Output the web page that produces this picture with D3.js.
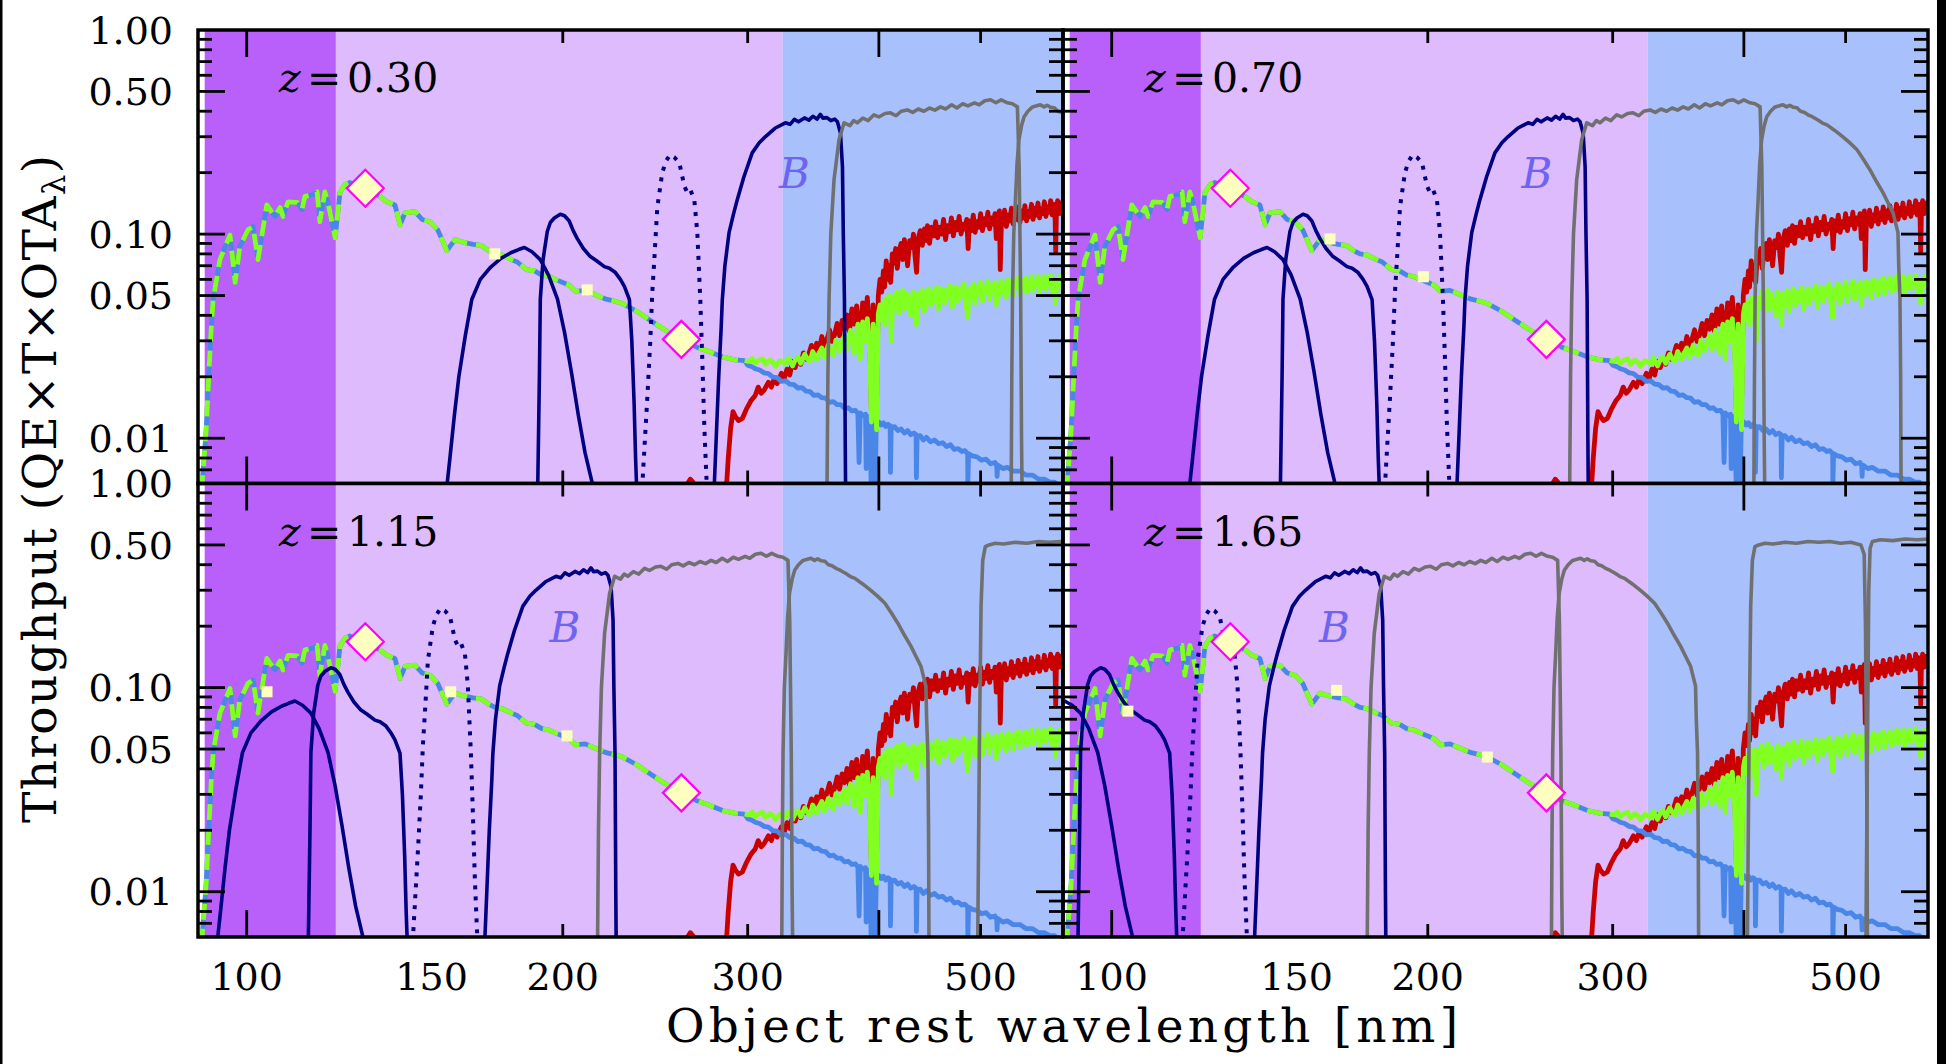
<!DOCTYPE html>
<html>
<head>
<meta charset="utf-8">
<script src="https://cdn.jsdelivr.net/npm/d3@7/dist/d3.min.js"></script>
<style>
html,body{margin:0;padding:0;background:#fff;}
svg{display:block;}
</style>
</head>
<body>
<svg id="chart" width="1946" height="1064"></svg>
<script>
// ================= DATA =================
const redshifts = [0.30, 0.70, 1.15, 1.65];
const redshiftLabels = ["0.30", "0.70", "1.15", "1.65"];
const xTickLabels = [100, 150, 200, 300, 500];
const xMajorTicks = [100, 400];
const xMinorTicks = [200, 300, 500];
const yTickValues = [1.0, 0.5, 0.1, 0.05, 0.01];
const yTickLabels = ["1.00", "0.50", "0.10", "0.05", "0.01"];
const yMinorTicks = [0.9,0.8,0.7,0.6,0.4,0.3,0.2,0.09,0.08,0.07,0.06,0.04,0.03,0.02,0.009,0.008,0.007];
const bandEdges = [91.2, 121.6, 324, 599];
const bandColors = ["#b95ffa", "#ddbbfc", "#a8c1fc"];

// rest-frame galaxy spectrum shared by blue and green templates (UV part)
const uvSpectrum = [[90.5,0.0055],[91.0,0.0075],[91.5,0.011],[92.0,0.02],[92.5,0.034],[92.9,0.048],[94.3,0.075],[96.4,0.099],[97.5,0.058],[98.5,0.087],[100.3,0.105],[101.4,0.109],[102.5,0.075],[104.5,0.139],[106.4,0.122],[107.6,0.135],[108.3,0.122],[109.5,0.144],[111.7,0.143],[112.9,0.132],[113.6,0.153],[115.6,0.156],[116.7,0.161],[117.4,0.115],[118.7,0.161],[119.5,0.143],[121.4,0.096],[122.7,0.160],[124.1,0.175],[125.4,0.179],[127.0,0.172],[129.9,0.165],[133.9,0.153],[136.0,0.144],[138.4,0.139],[140.0,0.111],[141.5,0.127],[144.6,0.129],[146.9,0.118],[149.5,0.115],[152.0,0.105],[155.1,0.083],[157.9,0.094],[161.0,0.091],[164.3,0.089],[167.3,0.088],[170.0,0.083],[172.4,0.080],[175.0,0.079],[178.7,0.075],[181.0,0.073],[184.7,0.067],[188.0,0.066],[191.0,0.063],[194.0,0.062],[196.7,0.060],[200.0,0.058],[203.0,0.056],[205.6,0.0524],[210.0,0.053],[214.8,0.0505],[220.0,0.048],[224.0,0.047],[228.0,0.0457],[235.0,0.042],[242.0,0.038],[250.0,0.034],[259.4,0.0305],[268.0,0.028],[276.0,0.0265],[284.0,0.025],[292.0,0.0242],[298.0,0.024]];
const blueTail = [[298,0.024],[300,0.0228],[303,0.0224],[305,0.0219],[308,0.0216],[311,0.0209],[314,0.0207],[317,0.0199],[320,0.0198],[323,0.019],[326,0.0191],[329,0.0184],[332,0.0183],[335,0.0176],[338,0.0177],[341,0.017],[344,0.0169],[347,0.0162],[350,0.0163],[353,0.0158],[356,0.0157],[359,0.015],[362,0.0151],[365,0.0146],[368,0.0146],[371,0.014],[374,0.0141],[377,0.0136],[380,0.0137],[382,0.0132],[383,0.0076],[384,0.0133],[386,0.0129],[388.5,0.0131],[389,0.0071],[390,0.0128],[392,0.0127],[393.3,0.006],[394.5,0.0124],[396,0.0125],[396.8,0.0059],[397.8,0.0121],[400,0.012],[402,0.0116],[404,0.0119],[406,0.0114],[408,0.0117],[410,0.0115],[410.3,0.0068],[411,0.0113],[414,0.0114],[417,0.0109],[420,0.0111],[423,0.0106],[426,0.0109],[429,0.0104],[432,0.0106],[434,0.0104],[434.3,0.0064],[435,0.0102],[438,0.0103],[441,0.0098],[444,0.0101],[448,0.0096],[452,0.0098],[456,0.0094],[460,0.0095],[464,0.0091],[468,0.0093],[472,0.0088],[476,0.0089],[480,0.0086],[483,0.0087],[486,0.0084],[486.2,0.0059],[487,0.0084],[491,0.0082],[496,0.0081],[501,0.0078],[506,0.0079],[511,0.0075],[516,0.0076],[518,0.0073],[518.4,0.0065],[519,0.0074],[525,0.0071],[530,0.0072],[537,0.0069],[545,0.0069],[552,0.0066],[560,0.0066],[568,0.0063],[575,0.0063],[582,0.0061],[588,0.0061],[589.2,0.0054],[590.2,0.006],[595,0.0059],[600,0.0058]];
const greenTail = [[298,0.024],[301,0.0238],[303,0.0246],[305,0.0233],[307,0.024],[310,0.0245],[312,0.023],[315,0.0242],[317,0.0236],[319,0.0225],[322,0.024],[324,0.0236],[326,0.0231],[328,0.0247],[331,0.0226],[333,0.0242],[335,0.025],[337,0.0233],[340,0.0258],[342,0.0244],[344,0.0238],[346,0.0266],[349,0.0243],[351,0.0261],[353,0.0277],[355,0.0248],[358,0.0286],[360,0.0262],[362,0.0255],[364,0.0302],[367,0.0268],[369,0.0296],[371,0.0318],[373,0.027],[376,0.0338],[378,0.0292],[379,0.0262],[382,0.0362],[384,0.0245],[386,0.0371],[388,0.0298],[390,0.0385],[392,0.0262],[393.5,0.012],[395,0.0362],[397,0.0222],[398,0.011],[399.5,0.0405],[401,0.045],[402.5,0.038],[404,0.047],[405.5,0.036],[407,0.049],[408.5,0.042],[410,0.05],[411,0.03],[412.5,0.049],[414,0.044],[416,0.052],[418,0.041],[420,0.049],[421.5,0.053],[423,0.043],[425,0.051],[427,0.046],[429,0.04],[431,0.052],[433,0.047],[434.3,0.036],[436,0.051],[438,0.045],[440,0.053],[442,0.042],[444,0.05],[446,0.054],[448,0.045],[450,0.052],[452,0.047],[454,0.055],[456,0.043],[458,0.051],[460,0.054],[462,0.046],[464,0.053],[466,0.049],[468,0.056],[470,0.044],[472,0.052],[474,0.055],[476,0.047],[478,0.054],[480,0.05],[482,0.057],[484,0.047],[486,0.039],[488,0.054],[490,0.049],[492,0.057],[494,0.046],[496,0.055],[498,0.051],[500,0.058],[502,0.047],[504,0.055],[506,0.052],[508,0.059],[510,0.048],[512,0.056],[514,0.053],[516,0.058],[517.5,0.045],[519,0.056],[521,0.05],[523,0.059],[525,0.052],[527,0.057],[529,0.049],[531,0.06],[533,0.054],[535,0.058],[537,0.05],[539,0.059],[541,0.055],[543,0.061],[545,0.051],[547,0.058],[549,0.055],[551,0.061],[553,0.052],[555,0.059],[557,0.054],[559,0.062],[561,0.053],[563,0.058],[565,0.056],[567,0.062],[569,0.052],[571,0.06],[573,0.055],[575,0.062],[577,0.054],[579,0.059],[581,0.057],[583,0.063],[585,0.053],[587,0.06],[589.3,0.046],[591,0.06],[593,0.056],[595,0.062],[597,0.055],[600,0.06]];
const redSpectrum = [[262,0.0052],[263,0.006],[264.5,0.0063],[266,0.0061],[267.5,0.0052],[286,0.0052],[287.5,0.008],[289,0.0112],[290.5,0.0135],[292,0.0128],[294,0.0122],[296.5,0.0125],[299,0.0138],[302,0.0152],[305,0.0162],[307,0.0178],[309,0.0166],[311,0.0172],[314,0.0188],[316,0.0178],[318,0.0196],[320,0.0185],[323,0.0208],[325,0.0196],[327,0.0218],[329,0.0204],[331,0.0238],[333,0.0222],[335,0.0248],[337,0.023],[339,0.0262],[341,0.0244],[343,0.0258],[345,0.0285],[347,0.0262],[349,0.0292],[351,0.0271],[353,0.0315],[355,0.0282],[357,0.0305],[359,0.034],[361,0.0298],[363,0.0322],[365,0.0365],[367,0.0318],[369,0.0378],[371,0.0342],[373,0.0402],[375,0.0335],[377,0.043],[379,0.0362],[381,0.0445],[383,0.0352],[384,0.029],[386,0.046],[388,0.0375],[390,0.049],[392,0.033],[393.5,0.0135],[395,0.045],[397,0.028],[398,0.015],[399.5,0.05],[401,0.06],[402.5,0.052],[404,0.066],[405,0.055],[406.5,0.074],[408,0.06],[409,0.07],[410.5,0.058],[412,0.08],[413,0.072],[415,0.085],[416.5,0.068],[418,0.082],[420,0.09],[421.5,0.075],[423,0.094],[425,0.08],[426,0.07],[428,0.093],[430,0.086],[431.5,0.1],[433,0.078],[434.5,0.065],[436,0.095],[438,0.104],[440,0.088],[442,0.106],[443.5,0.093],[445,0.11],[447,0.09],[449,0.108],[451,0.098],[453,0.115],[455,0.096],[457,0.108],[459,0.1],[461,0.118],[463,0.094],[465,0.11],[467,0.103],[469,0.12],[471,0.098],[473,0.114],[475,0.105],[477,0.122],[479,0.1],[481,0.112],[483,0.106],[485,0.118],[486.5,0.085],[488,0.116],[490,0.104],[492,0.124],[494,0.102],[496,0.115],[498,0.108],[500,0.126],[502,0.104],[504,0.119],[506,0.111],[508,0.128],[510,0.106],[512,0.12],[514,0.112],[516,0.126],[517.5,0.095],[519,0.122],[521,0.13],[522,0.067],[523.5,0.125],[525,0.112],[527,0.131],[529,0.109],[531,0.124],[533,0.116],[535,0.134],[537,0.112],[539,0.127],[541,0.118],[543,0.136],[545,0.114],[547,0.13],[549,0.12],[551,0.138],[553,0.116],[555,0.129],[557,0.122],[559,0.14],[561,0.118],[563,0.134],[565,0.124],[567,0.142],[569,0.12],[571,0.133],[573,0.126],[575,0.144],[577,0.122],[579,0.136],[581,0.128],[583,0.146],[585,0.124],[587,0.14],[588.5,0.13],[589.5,0.082],[590.5,0.135],[592,0.146],[594,0.126],[596,0.142],[598,0.13],[600,0.145]];

const diamondPoints = [[129.7, 0.1677], [259.4, 0.0305]];
// filter effective wavelengths (observed frame, nm) with flux level, per panel
const squaresObs = [
  [[224.0, 0.080], [274.3, 0.0533]],
  [[274.4, 0.0947], [336.7, 0.0618]],
  [[224.8, 0.0954], [336.3, 0.0954], [434.0, 0.058]],
  [[274.6, 0.0767], [434.0, 0.097], [604.0, 0.0457]]
];

// filter throughput curves, observed-frame wavelength (nm)
const filterF225W = [[201,0.005],[203,0.008],[205,0.013],[207,0.02],[210,0.032],[213,0.048],[217,0.06],[222,0.069],[227,0.076],[232,0.081],[236,0.084],[239,0.086],[243,0.082],[247.5,0.075],[252,0.063],[257,0.048],[261,0.033],[265,0.021],[269,0.013],[273,0.0085],[277,0.0062],[279,0.005]];
const filterF275W = [[246,0.005],[247,0.02],[247.5,0.048],[249,0.075],[251.3,0.103],[253,0.114],[255.2,0.12],[258.6,0.125],[261,0.123],[263.7,0.116],[266,0.104],[268.4,0.095],[272,0.085],[276.2,0.0776],[280,0.074],[284.8,0.0693],[288,0.068],[291.8,0.0648],[295,0.06],[297.6,0.0554],[300.9,0.0478],[302.5,0.03],[304,0.015],[305,0.008],[306,0.005]];
const filterF336W = [[309,0.005],[311,0.009],[313,0.016],[315,0.03],[316.4,0.052],[317.8,0.075],[319.9,0.136],[323.4,0.2],[326,0.228],[329.1,0.245],[332,0.238],[335.7,0.224],[338,0.19],[339.5,0.171],[341.7,0.16],[343.9,0.165],[346.9,0.1475],[349.2,0.102],[351.5,0.048],[353,0.025],[354.5,0.012],[356,0.007],[357,0.005]];
const filterF435W = [[362,0.005],[364,0.01],[366,0.02],[368,0.035],[368.9,0.0478],[371,0.07],[374.4,0.1017],[378,0.125],[381.2,0.1475],[386.8,0.191],[393.9,0.25],[400,0.28],[405.3,0.2997],[414,0.33],[423.6,0.351],[428,0.345],[432,0.365],[436,0.355],[441.7,0.371],[446,0.362],[450,0.378],[454,0.366],[457.4,0.386],[460,0.37],[464,0.372],[468,0.36],[472,0.366],[474.8,0.355],[478,0.313],[480.1,0.214],[481,0.1],[482.2,0.0478],[483,0.01],[483.5,0.005]];
const filterF606W = [[464,0.005],[465,0.02],[466.2,0.0478],[468,0.1],[471.3,0.1847],[476.5,0.29],[481.8,0.351],[488,0.34],[492,0.36],[495.9,0.351],[502,0.37],[508,0.36],[514.5,0.384],[520,0.375],[527,0.39],[533.3,0.393],[540,0.38],[546,0.4],[553.5,0.406],[560,0.395],[567,0.41],[574,0.4],[581,0.415],[588,0.405],[595.2,0.42],[602,0.41],[610,0.43],[617,0.415],[625,0.435],[632,0.425],[641.4,0.44],[648,0.43],[656,0.45],[664.3,0.455],[672,0.44],[680,0.455],[689.4,0.44],[697,0.435],[704.6,0.42],[707.3,0.214],[709.7,0.0478],[711,0.01],[712,0.005]];
const filterF814W = [[695,0.005],[696,0.02],[697,0.0478],[699,0.1],[701.6,0.1475],[704,0.22],[707,0.29],[711,0.34],[715,0.3754],[721,0.4],[728.3,0.42],[735,0.425],[741,0.43],[747,0.42],[752,0.428],[758,0.418],[764,0.416],[770,0.4],[776,0.395],[782.7,0.384],[790,0.376],[800,0.362],[808,0.35],[816,0.343],[830,0.322],[845,0.2997],[858,0.28],[871.5,0.259],[884,0.232],[896.5,0.2067],[910,0.18],[922.6,0.1596],[933,0.142],[943,0.1274],[953.4,0.1017],[955,0.07],[957.6,0.0478],[959,0.02],[960,0.005]];
const filterF125W = [[1068,0.005],[1072,0.05],[1076,0.25],[1080,0.42],[1086,0.49],[1095,0.5],[1110,0.51],[1130,0.505],[1160,0.515],[1190,0.51],[1220,0.52],[1250,0.515],[1280,0.52],[1310,0.51],[1340,0.515],[1370,0.5],[1380,0.45],[1384,0.2],[1388,0.03],[1390,0.005]];
const filterF160W = [[1385,0.005],[1390,0.05],[1394,0.3],[1398,0.48],[1405,0.52],[1430,0.53],[1470,0.525],[1510,0.535],[1550,0.53],[1590,0.535],[1630,0.53]];
const bLabelObs = 432;     // observed wavelength under the "B" label
const bLabelLevel = 0.168; // throughput level of the label baseline

// ================= LAYOUT =================
const svg = d3.select("#chart");
const PW = 865, PH = 453.5;
const panelX = [198, 1063, 198, 1063];
const panelY = [30, 30, 483.5, 483.5];
const x = d3.scaleLog().domain([89.87, 599]).range([0, PW]);
const y = d3.scaleLog().domain([0.006, 1]).range([PH, 0]);
const serif = "'DejaVu Serif', serif";

const line = d3.line().x(d => x(d[0])).y(d => y(d[1]));

// frame lines at image edges
svg.append("rect").attr("x", 0).attr("y", 0).attr("width", 2.5).attr("height", 1064).attr("fill", "#000");
svg.append("rect").attr("x", 1937).attr("y", 0).attr("width", 9).attr("height", 1064).attr("fill", "#000");

const filtersNavy = [filterF225W, filterF275W, filterF435W];
const filtersGray = [filterF606W, filterF814W, filterF125W, filterF160W];

redshifts.forEach((z, i) => {
  const g = svg.append("g").attr("transform", `translate(${panelX[i]},${panelY[i]})`);
  const clipId = "clip" + i;
  g.append("clipPath").attr("id", clipId).append("rect").attr("width", PW).attr("height", PH);
  const pg = g.append("g").attr("clip-path", `url(#${clipId})`);

  // background bands
  pg.selectAll("rect.band").data(bandColors).enter().append("rect")
    .attr("class", "band")
    .attr("x", (c, k) => x(bandEdges[k]))
    .attr("width", (c, k) => x(bandEdges[k + 1]) - x(bandEdges[k]) + (k === 2 ? 2 : 0))
    .attr("y", 0).attr("height", PH).attr("fill", c => c);

  const shift = d => [d[0] / (1 + z), d[1]];

  // spectra
  pg.append("path").datum(redSpectrum).attr("d", line)
    .attr("fill", "none").attr("stroke", "#c80000").attr("stroke-width", 4.8).attr("stroke-linejoin", "round");
  pg.append("path").datum(uvSpectrum.concat(blueTail.slice(1))).attr("d", line)
    .attr("fill", "none").attr("stroke", "#4a86e8").attr("stroke-width", 4.8).attr("stroke-linejoin", "round");
  pg.append("path").datum(greenTail).attr("d", line)
    .attr("fill", "none").attr("stroke", "#80ff20").attr("stroke-width", 4.8).attr("stroke-linejoin", "round");
  pg.append("path").datum(uvSpectrum).attr("d", line)
    .attr("fill", "none").attr("stroke", "#80ff20").attr("stroke-width", 4.8)
    .attr("stroke-dasharray", "16,9").attr("stroke-linejoin", "round");

  // filters
  filtersNavy.forEach(f => {
    pg.append("path").datum(f.map(shift)).attr("d", line)
      .attr("fill", "none").attr("stroke", "#000080").attr("stroke-width", 3.6).attr("stroke-linejoin", "round");
  });
  pg.append("path").datum(filterF336W.map(shift)).attr("d", line)
    .attr("fill", "none").attr("stroke", "#000080").attr("stroke-width", 4)
    .attr("stroke-dasharray", "4,7");
  filtersGray.forEach(f => {
    pg.append("path").datum(f.map(shift)).attr("d", line)
      .attr("fill", "none").attr("stroke", "#707070").attr("stroke-width", 3.6).attr("stroke-linejoin", "round");
  });

  // squares
  pg.selectAll("rect.sq").data(squaresObs[i].map(shift)).enter().append("rect")
    .attr("class", "sq")
    .attr("x", d => x(d[0]) - 5.5).attr("y", d => y(d[1]) - 5.5)
    .attr("width", 11).attr("height", 11).attr("fill", "#ffffc0");

  // diamonds
  pg.selectAll("path.dia").data(diamondPoints).enter().append("path")
    .attr("class", "dia")
    .attr("d", d => { const cx = x(d[0]), cy = y(d[1]), r = 18.5;
      return `M${cx},${cy - r}L${cx + r},${cy}L${cx},${cy + r}L${cx - r},${cy}Z`; })
    .attr("fill", "#ffffc0").attr("stroke", "#ff00ff").attr("stroke-width", 2.2);

  // B label
  pg.append("text").attr("x", x(bLabelObs / (1 + z))).attr("y", y(bLabelLevel))
    .attr("text-anchor", "middle").attr("font-family", serif).attr("font-style", "italic")
    .attr("font-size", 42).attr("fill", "#6e64f0").text("B");

  // z label
  const zt = g.append("text").attr("y", 62).attr("font-family", serif).attr("font-size", 41).attr("fill", "#000");
  zt.append("tspan").attr("x", 81).attr("font-style", "italic").text("z");
  zt.append("tspan").attr("x", 109).text("=");
  zt.append("tspan").attr("x", 149).text(redshiftLabels[i]);

  // frame
  g.append("rect").attr("width", PW).attr("height", PH).attr("fill", "none")
    .attr("stroke", "#000").attr("stroke-width", 3.5);

  // ticks
  const tk = g.append("g").attr("stroke", "#000").attr("stroke-width", 2.8);
  const xt = xMajorTicks.map(v => [v, 27]).concat(xMinorTicks.map(v => [v, 13]));
  xt.forEach(([v, L]) => {
    tk.append("line").attr("x1", x(v)).attr("x2", x(v)).attr("y1", PH).attr("y2", PH - L);
    tk.append("line").attr("x1", x(v)).attr("x2", x(v)).attr("y1", 0).attr("y2", L);
  });
  const yt = yTickValues.slice(1).map(v => [v, 27]).concat(yMinorTicks.map(v => [v, 14]));
  yt.forEach(([v, L]) => {
    tk.append("line").attr("x1", 0).attr("x2", L).attr("y1", y(v)).attr("y2", y(v));
    tk.append("line").attr("x1", PW).attr("x2", PW - L).attr("y1", y(v)).attr("y2", y(v));
  });

  // y tick labels (left panels)
  if (i % 2 === 0) {
    yTickValues.forEach((v, k) => {
      g.append("text").attr("x", -25).attr("y", y(v)).attr("dy", "0.36em")
        .attr("text-anchor", "end").attr("font-family", serif).attr("font-size", 38)
        .attr("fill", "#000").text(yTickLabels[k]);
    });
  }
  // x tick labels (bottom panels)
  if (i >= 2) {
    xTickLabels.forEach(v => {
      g.append("text").attr("x", x(v)).attr("y", PH + 53)
        .attr("text-anchor", "middle").attr("font-family", serif).attr("font-size", 38)
        .attr("fill", "#000").text(v);
    });
  }
});

// axis titles
svg.append("text").attr("x", 1062).attr("y", 1042).attr("text-anchor", "middle")
  .attr("font-family", serif).attr("font-size", 47).attr("fill", "#000")
  .attr("textLength", 792).attr("lengthAdjust", "spacing")
  .text("Object rest wavelength [nm]");

const ytitle = svg.append("text").attr("transform", "translate(56,489) rotate(-90)")
  .attr("text-anchor", "middle").attr("font-family", serif).attr("font-size", 47).attr("fill", "#000")
  .attr("textLength", 668).attr("lengthAdjust", "spacing");
ytitle.append("tspan").text("Throughput (QE×T×OTA");
ytitle.append("tspan").attr("font-size", 32).attr("dy", 9).text("λ");
ytitle.append("tspan").attr("dy", -9).text(")");
</script>
</body>
</html>
